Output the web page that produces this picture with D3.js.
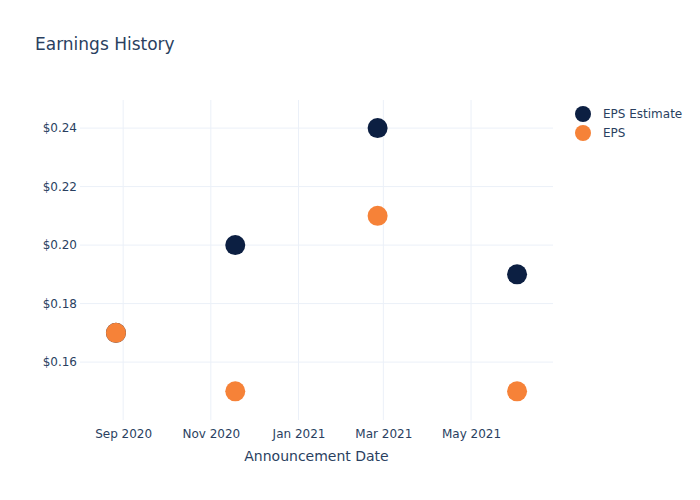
<!DOCTYPE html>
<html><head><meta charset="utf-8">
<script src="https://cdn.jsdelivr.net/npm/d3@7"></script>
<style>body{margin:0;background:#fff;} text{font-family:"DejaVu Sans",Verdana,sans-serif;}</style>
</head><body>
<svg id="c" width="700" height="500"></svg>
<script>
const dates = ["2020-08-27","2020-11-18","2021-02-25","2021-06-02"];
const epsEstimate = [0.17, 0.20, 0.24, 0.19];
const eps = [0.17, 0.15, 0.21, 0.15];
const yTicks = [0.16, 0.18, 0.20, 0.22, 0.24];
const xTickDates = ["2020-09-01","2020-11-01","2021-01-01","2021-03-01","2021-05-01"];
const seriesNames = ["EPS Estimate","EPS"];
const colors = ["#0c1f42","#f68238"];

const parse = d3.utcParse("%Y-%m-%d");
const svg = d3.select("#c");
const L=80, R=553, T=100, B=420;
const x = d3.scaleUtc().domain([parse("2020-08-02"), parse("2021-06-27")]).range([L,R]);
const y = d3.scaleLinear().domain([0.1402, 0.2496]).range([B,T]);
const textColor = "#2a3f5f", grid = "#ebf0f8";

// grid
svg.append("g").selectAll("line").data(xTickDates).join("line")
  .attr("x1",d=>x(parse(d))).attr("x2",d=>x(parse(d))).attr("y1",T).attr("y2",B)
  .attr("stroke",grid).attr("stroke-width",1);
svg.append("g").selectAll("line").data(yTicks).join("line")
  .attr("x1",L).attr("x2",R).attr("y1",d=>y(d)).attr("y2",d=>y(d))
  .attr("stroke",grid).attr("stroke-width",1);

// axes
const xAxis = d3.axisBottom(x).tickValues(xTickDates.map(parse)).tickFormat(d3.utcFormat("%b %Y")).tickSize(0).tickPadding(9);
const gx = svg.append("g").attr("transform",`translate(0,${B})`).call(xAxis);
gx.select(".domain").remove();
gx.selectAll("text").attr("fill",textColor).style("font-size","12px");
const yAxis = d3.axisLeft(y).tickValues(yTicks).tickFormat(d=>"$"+d3.format(".2f")(d)).tickSize(0).tickPadding(3);
const gy = svg.append("g").attr("transform",`translate(${L},0)`).call(yAxis);
gy.select(".domain").remove();
gy.selectAll("text").attr("fill",textColor).style("font-size","12px");

// points
[epsEstimate, eps].forEach((vals,i)=>{
  svg.append("g").selectAll("circle").data(vals).join("circle")
    .attr("cx",(d,j)=>x(parse(dates[j]))).attr("cy",d=>y(d)).attr("r",10)
    .attr("fill",colors[i]);
});

// title
svg.append("text").attr("x",35).attr("y",50).text("Earnings History")
  .attr("fill",textColor).style("font-size","17px");
svg.append("text").attr("x",(L+R)/2).attr("y",461).attr("text-anchor","middle")
  .text("Announcement Date").attr("fill",textColor).style("font-size","14px");

// legend
const lg = svg.append("g");
seriesNames.forEach((n,i)=>{
  lg.append("circle").attr("cx",583).attr("cy",114+i*19).attr("r",8).attr("fill",colors[i]);
  lg.append("text").attr("x",603).attr("y",118+i*19).text(n).attr("fill",textColor).style("font-size","12px");
});
</script>
</body></html>
